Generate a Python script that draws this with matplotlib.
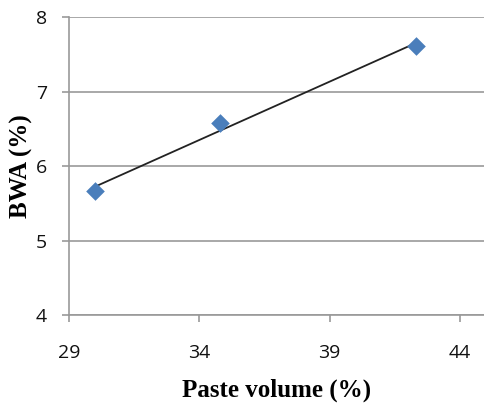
import numpy as np
import matplotlib.pyplot as plt

paste_volume = [30.0, 34.8, 42.3]
bwa = [5.66, 6.58, 7.61]
x_ticks = [29, 34, 39, 44]
y_ticks = [4, 5, 6, 7, 8]

fig = plt.figure(figsize=(4.84, 4.07), dpi=100)
ax = fig.add_axes([0.1426, 0.226, 0.8574, 0.732])

# linear trendline through the points
slope, intercept = np.polyfit(paste_volume, bwa, 1)
xs = np.array([paste_volume[0], paste_volume[-1]])
ax.plot(xs, slope * xs + intercept, color='#222222', lw=1.3, zorder=2)

ax.scatter(paste_volume, bwa, marker='D', s=90, color='#4a7ebb', zorder=3, linewidths=0)

ax.set_xlim(29, 44.92)
ax.set_ylim(4, 8)
ax.set_xticks(x_ticks)
ax.set_yticks(y_ticks)
ax.grid(axis='y', color='#999999', lw=1.2)
ax.set_axisbelow(True)

for s in ['top', 'right']:
    ax.spines[s].set_visible(False)
for s in ['left', 'bottom']:
    ax.spines[s].set_color('#999999')
    ax.spines[s].set_linewidth(1.2)

ax.tick_params(axis='both', colors='#999999', length=5, width=1.2, labelcolor='#111111',
               labelsize=14)
ax.tick_params(axis='x', pad=16)
ax.tick_params(axis='y', pad=11)
for lbl in ax.get_xticklabels() + ax.get_yticklabels():
    lbl.set_family('Open Sans')
    lbl.set_weight('medium')

ax.set_xlabel('Paste volume (%)', family='Liberation Serif', weight='bold', fontsize=18, labelpad=12)
ax.set_ylabel('BWA (%)', family='Liberation Serif', weight='bold', fontsize=18, labelpad=2)

fig.savefig('out.png', dpi=100)
